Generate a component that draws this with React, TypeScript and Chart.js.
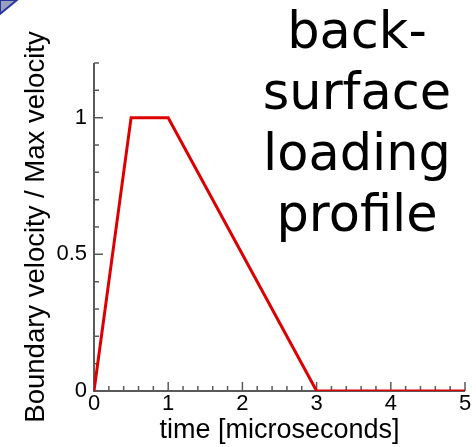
import React, { useEffect, useRef } from "react";
import { Chart, registerables } from "chart.js";

Chart.register(...registerables);

const timeValues = [0, 0.5, 1, 3, 5];
const velocityValues = [0, 1, 1, 0, 0];
const xLabeledTicks = [0, 1, 2, 3, 4, 5];
const yLabeledTicks = [0, 0.5, 1];
const xAxisTitle = "time [microseconds]";
const yAxisTitle = "Boundary velocity / Max velocity";
const headingLines = ["back-", "surface", "loading", "profile"];

const isLabeled = (v: number, list: number[]) => list.some((t) => Math.abs(t - v) < 1e-6);

const axisPlugin = {
  id: "inwardAxes",
  beforeDatasetsDraw(chart: any) {
    const ctx = chart.ctx;
    const xs = chart.scales.x;
    const ys = chart.scales.y;
    const left = xs.getPixelForValue(0);
    const bottom = ys.getPixelForValue(0);
    const top = ys.getPixelForValue(ys.max);
    const right = xs.getPixelForValue(xs.max);
    ctx.save();
    ctx.strokeStyle = "#5a5a5a";
    ctx.lineWidth = 2;
    ctx.beginPath();
    ctx.moveTo(left, top);
    ctx.lineTo(left, bottom);
    ctx.lineTo(right, bottom);
    ctx.stroke();
    ctx.lineWidth = 1.5;
    ctx.beginPath();
    ys.ticks.forEach((t: any) => {
      const py = ys.getPixelForValue(t.value);
      const len = isLabeled(t.value, yLabeledTicks) ? 9 : 5;
      ctx.moveTo(left, py);
      ctx.lineTo(left + len, py);
    });
    xs.ticks.forEach((t: any) => {
      const px = xs.getPixelForValue(t.value);
      const len = isLabeled(t.value, xLabeledTicks) ? 9 : 5;
      ctx.moveTo(px, bottom);
      ctx.lineTo(px, bottom - len);
    });
    ctx.stroke();
    ctx.restore();
  },
};

export default function App() {
  const canvasRef = useRef<HTMLCanvasElement>(null);

  useEffect(() => {
    const canvas = canvasRef.current;
    if (!canvas) return;
    const chart = new Chart(canvas, {
      type: "scatter",
      data: {
        datasets: [
          {
            data: timeValues.map((t, i) => ({ x: t, y: velocityValues[i] })),
            showLine: true,
            borderColor: "#dd0000",
            borderWidth: 3,
            pointRadius: 0,
            tension: 0,
          },
        ],
      },
      options: {
        animation: false,
        responsive: false,
        maintainAspectRatio: false,
        layout: { padding: { top: 63, right: 11, left: 0, bottom: 0 } },
        plugins: { legend: { display: false }, tooltip: { enabled: false } },
        scales: {
          x: {
            type: "linear",
            min: 0,
            max: 5,
            grid: { display: false, drawTicks: false },
            border: { display: false },
            ticks: {
              stepSize: 0.2,
              autoSkip: false,
              maxRotation: 0,
              padding: 0,
              color: "#000",
              font: { family: "Liberation Sans, Arial, sans-serif", size: 22 },
              callback: (v: any) => (isLabeled(Number(v), xLabeledTicks) ? String(Math.round(Number(v))) : ""),
            },
            title: {
              display: true,
              text: xAxisTitle,
              color: "#000",
              font: { family: "Liberation Sans, Arial, sans-serif", size: 27 },
              padding: { top: 0, bottom: 0 },
            },
            afterFit: (s: any) => {
              s.height = 56;
            },
          },
          y: {
            type: "linear",
            min: 0,
            max: 1.2,
            grid: { display: false, drawTicks: false },
            border: { display: false },
            ticks: {
              stepSize: 0.1,
              autoSkip: false,
              padding: 7,
              color: "#000",
              font: { family: "Liberation Sans, Arial, sans-serif", size: 22 },
              callback: (v: any) => {
                const n = Number(v);
                if (!isLabeled(n, yLabeledTicks)) return "";
                return Math.abs(n - 0.5) < 1e-6 ? "0.5" : String(Math.round(n));
              },
            },
            title: {
              display: true,
              text: yAxisTitle,
              color: "#000",
              font: { family: "Liberation Sans, Arial, sans-serif", size: 27.5 },
              padding: { top: 20, bottom: 0 },
            },
            afterFit: (s: any) => {
              s.width = 94;
            },
          },
        },
      },
      plugins: [axisPlugin],
    });
    return () => chart.destroy();
  }, []);

  return (
    <div style={{ position: "fixed", left: 0, top: 0, width: 476, height: 447, background: "#fff", overflow: "hidden" }}>
      <canvas ref={canvasRef} width={476} height={447} style={{ position: "absolute", left: 0, top: 0 }} />
      <svg width={20} height={16} style={{ position: "absolute", left: 0, top: 0 }}>
        <polygon points="0,0 17,0 0,14" fill="#9a9fbf" stroke="#2a36a0" strokeWidth={2} />
      </svg>
      <div
        style={{
          position: "absolute",
          left: 257,
          top: 0,
          width: 200,
          textAlign: "center",
          fontFamily: "'DejaVu Sans', sans-serif",
          fontSize: 51,
          lineHeight: "61px",
          color: "#000",
        }}
      >
        {headingLines.map((l, i) => (
          <div key={i}>{l}</div>
        ))}
      </div>
    </div>
  );
}
